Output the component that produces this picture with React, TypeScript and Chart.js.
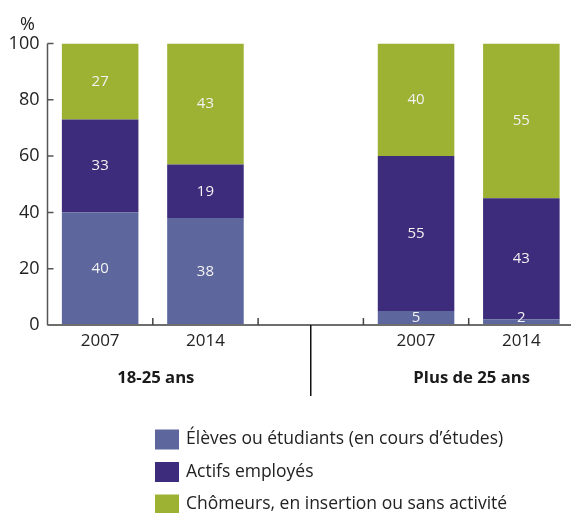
import React, { useEffect, useRef } from "react";
import { Chart, registerables } from "chart.js";

Chart.register(...registerables);

const categories = ["2007", "2014", "", "2007", "2014"];
const groupLabels = ["18-25 ans", "Plus de 25 ans"];
const groupSpans = [[0, 1], [3, 4]];
const separatorIndex = 2;

const seriesNames = [
  "Élèves ou étudiants (en cours d’études)",
  "Actifs employés",
  "Chômeurs, en insertion ou sans activité",
];
const eleves = [40, 38, null, 5, 2];
const actifs = [33, 19, null, 55, 43];
const chomeurs = [27, 43, null, 40, 55];
const seriesColors = ["#5d679d", "#3d2c7c", "#9db232"];

const yTicks = [0, 20, 40, 60, 80, 100];
const yUnit = "%";

const FONT = "'Open Sans', sans-serif";

const extrasPlugin = {
  id: "extras",
  afterDatasetsDraw(chart: any) {
    const ctx = chart.ctx;
    ctx.save();
    ctx.font = `15px ${FONT}`;
    ctx.fillStyle = "#f2f2f2";
    ctx.textAlign = "center";
    ctx.textBaseline = "middle";
    chart.data.datasets.forEach((ds: any, di: number) => {
      const meta = chart.getDatasetMeta(di);
      meta.data.forEach((el: any, i: number) => {
        const v = ds.data[i];
        if (v === null || v === undefined) return;
        const p = el.getProps(["x", "y", "base"], true);
        let cy = (p.y + p.base) / 2;
        cy = Math.min(cy, p.base - 7);
        ctx.fillText(String(v), p.x, cy);
      });
    });
    ctx.restore();
  },
  afterDraw(chart: any) {
    const ctx = chart.ctx;
    const xs = chart.scales.x;
    const ys = chart.scales.y;
    const { left, right, top, bottom } = chart.chartArea;
    ctx.save();
    // y axis
    ctx.strokeStyle = "#555555";
    ctx.lineWidth = 1.5;
    ctx.beginPath();
    ctx.moveTo(left, top);
    ctx.lineTo(left, bottom);
    yTicks.forEach((t) => {
      const y = ys.getPixelForValue(t);
      ctx.moveTo(left, y);
      ctx.lineTo(left + 6, y);
    });
    ctx.stroke();
    // x axis
    ctx.strokeStyle = "#6e6e6e";
    ctx.lineWidth = 2;
    ctx.beginPath();
    ctx.moveTo(left, bottom);
    ctx.lineTo(right, bottom);
    ctx.stroke();
    ctx.lineWidth = 1.5;
    ctx.strokeStyle = "#444444";
    ctx.beginPath();
    for (let i = 0; i < categories.length - 1; i++) {
      const x = (xs.getPixelForValue(i) + xs.getPixelForValue(i + 1)) / 2;
      ctx.moveTo(x, bottom - 7);
      ctx.lineTo(x, bottom);
    }
    ctx.stroke();
    // separator
    ctx.strokeStyle = "#111111";
    ctx.lineWidth = 1.5;
    const sx = xs.getPixelForValue(separatorIndex);
    ctx.beginPath();
    ctx.moveTo(sx, bottom);
    ctx.lineTo(sx, bottom + 71);
    ctx.stroke();
    // group labels
    ctx.fillStyle = "#1a1a1a";
    ctx.font = `bold 16.7px ${FONT}`;
    ctx.textAlign = "center";
    ctx.textBaseline = "middle";
    groupLabels.forEach((g, gi) => {
      const [a, b] = groupSpans[gi];
      const cx = (xs.getPixelForValue(a) + xs.getPixelForValue(b)) / 2 + 3;
      ctx.fillText(g, cx, bottom + 53);
    });
    // unit
    ctx.font = `18px ${FONT}`;
    ctx.fillStyle = "#222222";
    ctx.fillText(yUnit, left - 20, top - 19);
    // legend
    ctx.textAlign = "left";
    seriesNames.forEach((name, i) => {
      const cy = bottom + 114.5 + i * 32.5;
      ctx.fillStyle = seriesColors[i];
      ctx.fillRect(155, cy - 10, 24, 20);
      ctx.fillStyle = "#222222";
      ctx.font = `17.5px ${FONT}`;
      ctx.fillText(name, 186, cy);
    });
    ctx.restore();
  },
};

export default function App() {
  const ref = useRef<HTMLCanvasElement | null>(null);
  useEffect(() => {
    if (!ref.current) return;
    const seriesData = [eleves, actifs, chomeurs];
    const chart = new Chart(ref.current, {
      type: "bar",
      data: {
        labels: categories,
        datasets: seriesNames.map((n, i) => ({
          label: n,
          data: seriesData[i] as any,
          backgroundColor: seriesColors[i],
          borderWidth: 0,
          categoryPercentage: 1,
          barPercentage: 0.727,
        })),
      },
      options: {
        responsive: false,
        animation: false,
        devicePixelRatio: 1,
        layout: { padding: { top: 43.5, right: 0, bottom: 0, left: 0 } },
        plugins: {
          legend: { display: false },
          tooltip: { enabled: false },
        },
        scales: {
          x: {
            stacked: true,
            grid: { display: false, drawTicks: false },
            border: { display: false },
            ticks: {
              color: "#222222",
              font: { family: FONT, size: 17 },
              padding: 6,
              maxRotation: 0,
            },
            afterFit: (s: any) => {
              s.height = 188;
            },
          },
          y: {
            stacked: true,
            min: 0,
            max: 100,
            grid: { display: false, drawTicks: false },
            border: { display: false },
            ticks: {
              stepSize: 20,
              color: "#222222",
              font: { family: FONT, size: 18 },
              padding: 8,
            },
            afterFit: (s: any) => {
              s.width = 47.5;
            },
          },
        },
      },
      plugins: [extrasPlugin],
    });
    return () => chart.destroy();
  }, []);
  return (
    <div
      style={{
        position: "fixed",
        left: 0,
        top: 0,
        width: 571,
        height: 513,
        overflow: "hidden",
        background: "#ffffff",
      }}
    >
      <canvas ref={ref} width={574} height={513} style={{ display: "block" }} />
    </div>
  );
}
